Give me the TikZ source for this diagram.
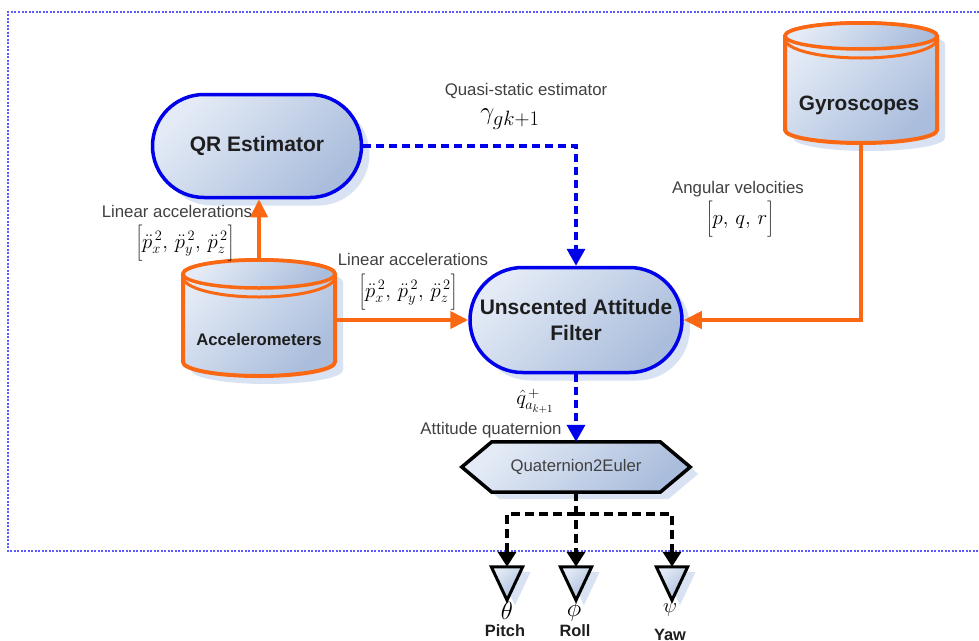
\documentclass[tikz,border=0pt]{standalone}
\usepackage{fontspec}
\setmainfont{Liberation Sans}
\usetikzlibrary{arrows.meta,shapes.misc,shadows,backgrounds}
\definecolor{orng}{RGB}{250,104,20}
\definecolor{bblue}{RGB}{0,0,235}
\definecolor{fillA}{RGB}{228,235,246}
\definecolor{fillB}{RGB}{170,189,220}
\definecolor{shad}{RGB}{216,226,242}
\definecolor{framec}{RGB}{90,90,255}
\definecolor{lblc}{RGB}{64,64,64}
\definecolor{txtc}{RGB}{30,30,30}
\newcommand\mycyl[7]{%
  \fill[shad] ({#1-#4+8},{#2+8}) -- ({#1-#4+8},{#3+8}) arc[start angle=180,end angle=360,x radius=#4pt,y radius=#5pt] -- ({#1+#4+8},{#2+8}) arc[start angle=0,end angle=180,x radius=#4pt,y radius=#5pt] -- cycle;
  \path[draw=orng,line width=4pt,gfill] ({#1-#4},{#2}) -- ({#1-#4},{#3}) arc[start angle=180,end angle=360,x radius=#4pt,y radius=#5pt] -- ({#1+#4},{#2}) arc[start angle=0,end angle=180,x radius=#4pt,y radius=#5pt] -- cycle;
  \path[draw=orng,line width=3.5pt,gfill] (#1,#2) ellipse[x radius=#4pt,y radius=#5pt];
  \draw[orng,line width=3pt] ({#1-#4},{#2+3}) arc[start angle=180,end angle=360,x radius=#4pt,y radius=#7pt];
}
\newcommand\tallbr[1]{\left[\rule[-9pt]{0pt}{31pt}#1\right]}
\begin{document}
\begin{tikzpicture}[x=1pt,y=-1pt,
  gfill/.style={top color=fillA, bottom color=fillB, shading angle=45},
  stadium/.style={rounded rectangle, draw=bblue, line width=3.5pt, gfill, inner sep=0pt,
     text=txtc, font=\fontsize{21}{25}\selectfont\bfseries,
     drop shadow={fill=shad, opacity=1, shadow xshift=8pt, shadow yshift=-8pt}},
  lbl/.style={text=lblc, font=\fontsize{16.8}{20}\selectfont, inner sep=0pt},
  mth/.style={text=black, font=\fontsize{22}{26}\selectfont, inner sep=0pt},
  holder/.style={inner sep=0pt, draw=none},
  oarrow/.style={draw=orng, line width=4pt, -{Triangle[length=18pt,width=17pt]}},
  barrow/.style={draw=bblue, line width=3.5pt, dash pattern=on 8pt off 5pt, -{Triangle[length=17pt,width=18pt]}},
  karrow/.style={draw=black, line width=3.5pt, dash pattern=on 9pt off 5pt, -{Triangle[length=15pt,width=18pt]}},
]
\useasboundingbox (0,0) rectangle (979,640);
% frame
\draw[framec, line width=1.5pt, dash pattern=on 2pt off 1.5pt] (979,12) -- (8,12) -- (8,551) -- (979,551);

% cylinders
\mycyl{259}{274}{362}{76}{14}{6}{20}
\mycyl{861}{36}{130}{76}{13}{6}{19}
\node[holder, minimum width=152, minimum height=118] (acc) at (259,318) {};
\node[text=txtc, font=\fontsize{16.7}{20}\selectfont\bfseries, inner sep=0pt] (acclbl) at (259,340) {Accelerometers};
\node[holder, minimum width=152, minimum height=120] (gyro) at (861,83) {};
\node[text=txtc, font=\fontsize{20.8}{24}\selectfont\bfseries, inner sep=0pt] (gyrolbl) at (859,105) {Gyroscopes};

% stadium nodes
\node[stadium, minimum width=209, minimum height=103] (qr) at (257,146) {QR Estimator};
\node[stadium, minimum width=212, minimum height=105, align=center] (uaf) at (576,320) {Unscented Attitude\\[1pt]Filter};

% hexagon
\node[holder, minimum width=228, minimum height=50, text=lblc, font=\fontsize{16.7}{20}\selectfont] (q2e) at (576,467) {Quaternion2Euler};
% triangles
\node[holder, minimum width=31, minimum height=33] (pitch) at (507,583.5) {};
\node[holder, minimum width=31, minimum height=33] (roll) at (576,583.5) {};
\node[holder, minimum width=31, minimum height=33] (yaw) at (672,583.5) {};
\begin{scope}[on background layer]
  \fill[shad] ([xshift=38pt,yshift=-7pt]q2e.north west) -- ([xshift=-22pt,yshift=-7pt]q2e.north east) -- ([xshift=8pt,yshift=-7pt]q2e.east) -- ([xshift=-22pt,yshift=-7pt]q2e.south east) -- ([xshift=38pt,yshift=-7pt]q2e.south west) -- ([xshift=8pt,yshift=-7pt]q2e.west) -- cycle;
  \path[draw=black, line width=3.5pt, gfill, line join=miter] ([xshift=30pt]q2e.north west) -- ([xshift=-30pt]q2e.north east) -- (q2e.east) -- ([xshift=-30pt]q2e.south east) -- ([xshift=30pt]q2e.south west) -- (q2e.west) -- cycle;
  \foreach \t in {pitch,roll,yaw}{
    \fill[shad] ([xshift=8pt,yshift=-5pt]\t.north west) -- ([xshift=8pt,yshift=-5pt]\t.north east) -- ([xshift=8pt,yshift=-5pt]\t.south) -- cycle;
    \path[draw=black, line width=3pt, gfill] (\t.north west) -- (\t.north east) -- (\t.south) -- cycle;
  }
\end{scope}

% connectors
\draw[oarrow] (acc.north) -- (acc.north |- qr.south);
\draw[oarrow] (acc.east |- uaf.west) -- (uaf.west);
\draw[oarrow] (gyro.south) |- (uaf.east);
\draw[barrow] (qr.east) -| (uaf.north);
\draw[barrow] (uaf.south) -- (q2e.north);
\coordinate (br) at (576,514);
\draw[karrow] (q2e.south) -- (roll.north);
\draw[karrow] (q2e.south |- br) -| (pitch.north);
\draw[karrow] (q2e.south |- br) -| (yaw.north);

% labels
\node[lbl] (l1) at (177,211) {Linear accelerations};
\node[mth] (m1) at (185,243) {$\tallbr{\ddot{p}_x^{\,2},\,\ddot{p}_y^{\,2},\,\ddot{p}_z^{\,2}}$};
\node[lbl] (l2) at (413,259) {Linear accelerations};
\node[mth] (m2) at (408,292) {$\tallbr{\ddot{p}_x^{\,2},\,\ddot{p}_y^{\,2},\,\ddot{p}_z^{\,2}}$};
\node[lbl] (l3) at (526,91) {Quasi-static estimator};
\node[mth, font=\fontsize{28}{32}\selectfont] (m3) at (510,119) {$\gamma_{gk+1}$};
\node[lbl] (l4) at (738,189) {Angular velocities};
\node[mth] (m4) at (740,219) {$\tallbr{p,\,q,\,r}$};
\node[mth] (m5) at (535,401) {$\hat{q}_{a_{k+1}}^{\,+}$};
\node[lbl] (l5) at (491,430) {Attitude quaternion};
\node[mth, font=\fontsize{24}{28}\selectfont] (th) at (507,611) {$\theta$};
\node[mth, font=\fontsize{24}{28}\selectfont] (ph) at (574,610) {$\phi$};
\node[mth, font=\fontsize{20}{24}\selectfont] (ps) at (670,607) {$\psi$};
\node[text=txtc, font=\fontsize{16.4}{20}\selectfont\bfseries, inner sep=0pt] (pl) at (505,631) {Pitch};
\node[text=txtc, font=\fontsize{16.4}{20}\selectfont\bfseries, inner sep=0pt] (rl) at (575,631) {Roll};
\node[text=txtc, font=\fontsize{16.4}{20}\selectfont\bfseries, inner sep=0pt] (yl) at (670,635) {Yaw};
\end{tikzpicture}
\end{document}
